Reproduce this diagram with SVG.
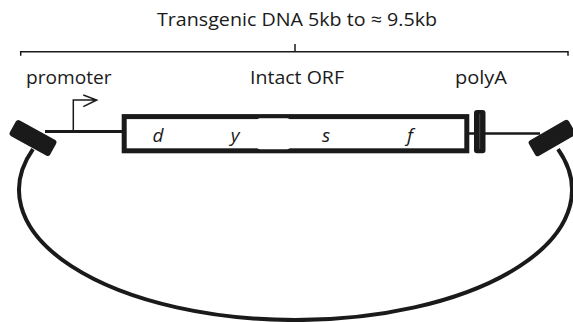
<svg xmlns="http://www.w3.org/2000/svg" width="573" height="322" viewBox="0 0 573 322">
<style>
.lbl{font-family:"Open Sans","Liberation Sans",sans-serif;font-size:18.5px;fill:#1a1a1a}
.gene{font-family:"Open Sans","Liberation Sans",sans-serif;font-size:19px;font-style:italic;fill:#1a1a1a;text-anchor:middle}
.thin{fill:none;stroke:#1a1a1a;stroke-width:1.5}
.blk{fill:#1a1a1a}
</style>
<rect width="573" height="322" fill="#fff"/>
<g id="title">
<text class="lbl" x="157" y="26" textLength="280" lengthAdjust="spacingAndGlyphs">Transgenic DNA 5kb to ≈ 9.5kb</text>
</g>
<g id="bracket">
<path class="thin" d="M20.7 55.7 V51.7 H568 V55.7 M295 44 V51.7"/>
</g>
<g id="labels">
<text class="lbl" x="26" y="84" textLength="85.5" lengthAdjust="spacingAndGlyphs">promoter</text>
<text class="lbl" x="250" y="84" textLength="94" lengthAdjust="spacingAndGlyphs">Intact ORF</text>
<text class="lbl" x="455" y="84" textLength="52" lengthAdjust="spacingAndGlyphs">polyA</text>
</g>
<g id="connectors">
<path d="M33 149.2 A276.5 130 0 1 0 558 149.2" fill="none" stroke="#1a1a1a" stroke-width="4"/>
<line x1="45" y1="131.5" x2="122" y2="131.5" stroke="#1a1a1a" stroke-width="3"/>
<line x1="466" y1="133.5" x2="540" y2="133.5" stroke="#1a1a1a" stroke-width="2.5"/>
<path class="thin" d="M73.3 131 V100 H96.5 M83.3 95 L96.7 100 L83.3 106.7"/>
</g>
<g id="left-end">
<rect class="blk" x="-23" y="-9" width="46" height="18" rx="3" transform="translate(33 138) rotate(29)"/>
</g>
<g id="right-end">
<rect class="blk" x="-23" y="-9" width="46" height="18" rx="3" transform="translate(552 138) rotate(-30)"/>
</g>
<g id="orf">
<rect x="124.2" y="116.6" width="342.6" height="34.2" fill="#fff" stroke="#1a1a1a" stroke-width="5"/>
<rect x="257" y="118.3" width="33" height="31" rx="3" fill="#fff"/>
<text class="gene" x="158" y="141.5">d</text>
<text class="gene" x="235" y="141.5">y</text>
<text class="gene" x="326" y="141.5">s</text>
<text class="gene" x="410" y="141.5">f</text>
</g>
<g id="polyA">
<rect class="blk" x="474" y="110" width="11.5" height="43.3" rx="3"/>
<line x1="479.7" y1="114" x2="479.7" y2="149" stroke="#4a4a4a" stroke-width="1"/>
</g>
</svg>
